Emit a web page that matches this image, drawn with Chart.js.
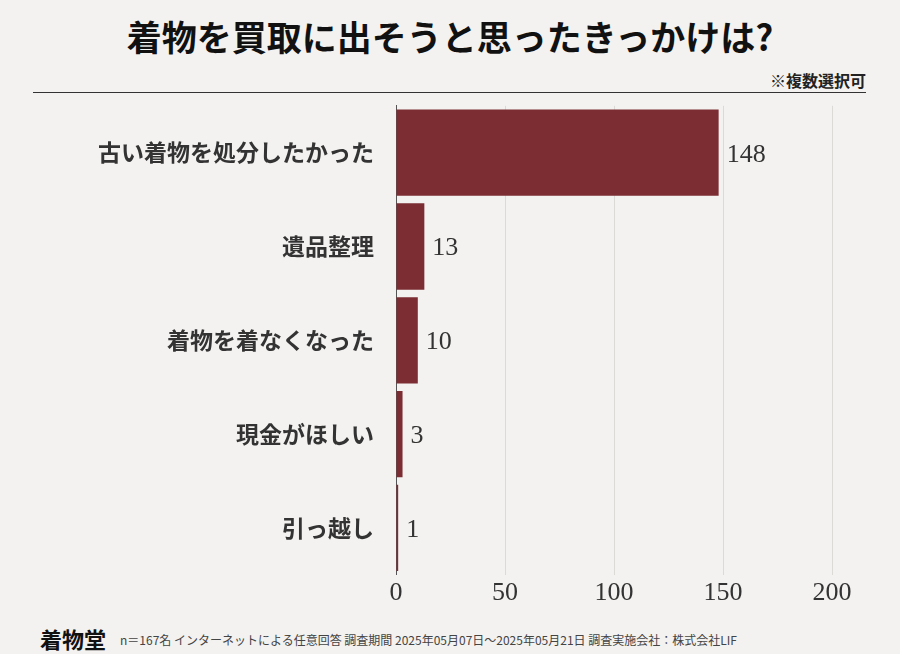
<!DOCTYPE html>
<html><head><meta charset="utf-8">
<script src="https://cdn.jsdelivr.net/npm/chart.js@4"></script>
<style>
body{margin:0;width:900px;height:654px;background:#f3f2f0;font-family:"Noto Sans CJK JP",sans-serif;position:relative;overflow:hidden}
#title{position:absolute;top:10px;left:0;width:900px;text-align:center;font-size:35px;font-weight:bold;color:#111}
#note{position:absolute;top:68px;right:34px;font-size:16px;font-weight:bold;color:#222}
#rule{position:absolute;top:92px;left:33px;width:833px;height:1px;background:#333}
#wrap{position:absolute;left:0;top:78px;width:900px;height:534px}
#foot{position:absolute;left:40px;top:622px;font-size:12px;color:#444}
#foot b{font-size:22px;margin-right:14px;color:#111;vertical-align:-3px}
</style></head><body>
<div id="title">着物を買取に出そうと思ったきっかけは?</div>
<div id="note">※複数選択可</div>
<div id="rule"></div>
<div id="wrap"><canvas id="c"></canvas></div>
<div id="foot"><b>着物堂</b>n＝167名 インターネットによる任意回答 調査期間 2025年05月07日～2025年05月21日 調査実施会社：株式会社LIF</div>
<script>
const categories = ['古い着物を処分したかった', '遺品整理', '着物を着なくなった', '現金がほしい', '引っ越し'];
const counts = [148, 13, 10, 3, 1];

const valueLabels = {
  id: 'valueLabels',
  afterDatasetsDraw(chart) {
    const c = chart.ctx;
    c.save();
    c.font = '26px "Liberation Serif", serif';
    c.fillStyle = '#333';
    c.textBaseline = 'middle';
    chart.getDatasetMeta(0).data.forEach((bar, i) => {
      c.fillText(counts[i], bar.x + 8, bar.y + 2);
    });
    c.restore();
  }
};

new Chart(document.getElementById('c'), {
  type: 'bar',
  data: {
    labels: categories,
    datasets: [{data: counts, backgroundColor: '#7b2d33', barPercentage: 0.92, categoryPercentage: 1}]
  },
  options: {
    indexAxis: 'y',
    responsive: true,
    maintainAspectRatio: false,
    animation: false,
    layout: {padding: {top: 9, right: 68, left: 0, bottom: 0}},
    plugins: {legend: {display: false}, tooltip: {enabled: false}},
    scales: {
      x: {
        min: 0, max: 200,
        ticks: {stepSize: 50, color: '#333', font: {size: 26, family: '"Liberation Serif", serif'}},
        grid: {color: '#dcdad6', drawTicks: false},
        border: {display: false}
      },
      y: {
        afterFit(s) { s.width = 396; },
        ticks: {color: '#333', padding: 14, font: {size: 23, weight: 'bold', family: '"Noto Sans CJK JP", sans-serif'}},
        grid: {display: false},
        border: {color: '#555'}
      }
    }
  },
  plugins: [valueLabels]
});
</script>
</body></html>
